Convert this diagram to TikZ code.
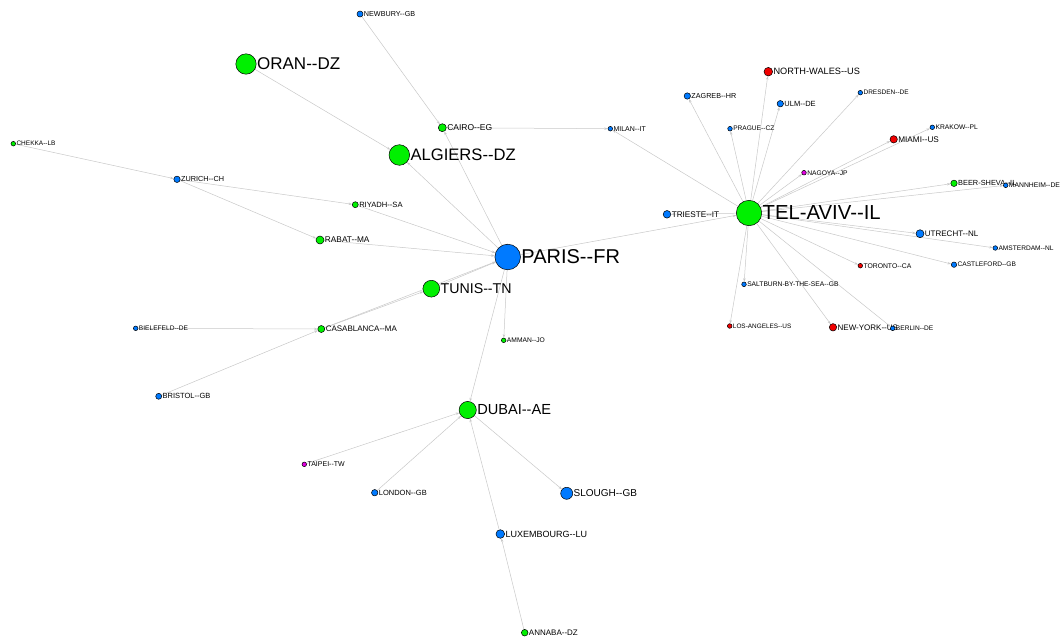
\documentclass[tikz,border=0pt]{standalone}
\usepackage{fontspec}
\usepackage{tikz}
\usetikzlibrary{arrows.meta,backgrounds}
\newfontfamily\cityfont{Liberation Sans}
\definecolor{cityGreen}{RGB}{0,240,0}
\definecolor{cityBlue}{RGB}{0,122,255}
\definecolor{cityRed}{RGB}{240,0,0}
\definecolor{cityPink}{RGB}{225,0,225}
\definecolor{linkGray}{RGB}{200,200,200}
\tikzset{
city/.style={circle,draw=black,line width=0.5pt,inner sep=0pt},
link/.style={draw=linkGray,line width=0.5pt,-{Stealth[length=3.5pt,width=2.5pt]}}
}
% name, position, colour, diameter, font size, text
\newcommand\drawCity[6]{
\node[city,fill=#3,minimum size=#4pt,label distance=1pt,
  label={[inner sep=0.5pt,font=\cityfont\fontsize{#5}{#5}\selectfont]right:#6}] (#1) at (#2) {};
}

\begin{document}
\begin{tikzpicture}[x=1pt,y=-1pt]
\useasboundingbox (0,0) rectangle (1062,643);
% the two hubs
\drawCity{paris}{507.7,257}{cityBlue}{25.6}{20}{PARIS--FR}
\drawCity{telaviv}{749,213}{cityGreen}{25.4}{20.3}{TEL-AVIV--IL}
% around Paris
\drawCity{oran}{246,64}{cityGreen}{20.4}{17}{ORAN--DZ}
\drawCity{algiers}{399.3,155}{cityGreen}{20.6}{16.6}{ALGIERS--DZ}
\drawCity{tunis}{431.3,288.7}{cityGreen}{16.8}{14.2}{TUNIS--TN}
\drawCity{dubai}{467.7,410}{cityGreen}{17.2}{14.6}{DUBAI--AE}
\drawCity{slough}{566.7,493.3}{cityBlue}{12}{10}{SLOUGH--GB}
\drawCity{luxembourg}{500.3,534}{cityBlue}{8.6}{9}{LUXEMBOURG--LU}
\drawCity{annaba}{524.7,632.7}{cityGreen}{6.6}{8}{ANNABA--DZ}
\drawCity{london}{374.7,492.7}{cityBlue}{6.4}{7.5}{LONDON--GB}
\drawCity{taipei}{304.3,464.3}{cityPink}{4.6}{7}{TAIPEI--TW}
\drawCity{amman}{503.7,340.3}{cityGreen}{4.6}{6.7}{AMMAN--JO}
\drawCity{cairo}{442.3,127.7}{cityGreen}{8}{8.5}{CAIRO--EG}
\drawCity{newbury}{360,14}{cityBlue}{6}{7.2}{NEWBURY--GB}
\drawCity{milan}{610.3,128.7}{cityBlue}{4.6}{7}{MILAN--IT}
\drawCity{rabat}{320,240}{cityGreen}{8}{8.3}{RABAT--MA}
\drawCity{riyadh}{355.3,204.7}{cityGreen}{6}{7.6}{RIYADH--SA}
\drawCity{zurich}{177,179.3}{cityBlue}{6.4}{7.3}{ZURICH--CH}
\drawCity{chekka}{13.3,143.7}{cityGreen}{4.6}{6.5}{CHEKKA--LB}
\drawCity{casablanca}{321.3,329}{cityGreen}{7}{8}{CASABLANCA--MA}
\drawCity{bielefeld}{135.7,328.3}{cityBlue}{4.6}{6.6}{BIELEFELD--DE}
\drawCity{bristol}{158.7,396.3}{cityBlue}{6}{7.5}{BRISTOL--GB}
% around Tel-Aviv
\drawCity{trieste}{667,214.3}{cityBlue}{7.6}{8.2}{TRIESTE--IT}
\drawCity{northwales}{768.3,71.7}{cityRed}{8.6}{9.2}{NORTH-WALES--US}
\drawCity{zagreb}{687.3,96}{cityBlue}{6.4}{7.2}{ZAGREB--HR}
\drawCity{ulm}{780.3,103.7}{cityBlue}{6.4}{7.5}{ULM--DE}
\drawCity{prague}{730,128.7}{cityBlue}{4.6}{6.6}{PRAGUE--CZ}
\drawCity{dresden}{860.3,92.7}{cityBlue}{4.6}{6.5}{DRESDEN--DE}
\drawCity{krakow}{932.3,127.3}{cityBlue}{4.6}{6.7}{KRAKOW--PL}
\drawCity{miami}{893.7,139.3}{cityRed}{7.4}{8.2}{MIAMI--US}
\drawCity{nagoya}{804,172.7}{cityPink}{4.6}{6.7}{NAGOYA--JP}
\drawCity{beersheva}{954,183.3}{cityGreen}{6.4}{7.4}{BEER-SHEVA--IL}
\drawCity{mannheim}{1005.7,185.3}{cityBlue}{4.6}{6.8}{MANNHEIM--DE}
\drawCity{utrecht}{920,233.7}{cityBlue}{8}{8}{UTRECHT--NL}
\drawCity{amsterdam}{995.3,248}{cityBlue}{4.6}{6.6}{AMSTERDAM--NL}
\drawCity{castleford}{954,264.7}{cityBlue}{5.4}{6.6}{CASTLEFORD--GB}
\drawCity{toronto}{860.3,265.7}{cityRed}{4.6}{6.8}{TORONTO--CA}
\drawCity{saltburn}{744,284.3}{cityBlue}{4.6}{6.7}{SALTBURN-BY-THE-SEA--GB}
\drawCity{losangeles}{729.7,326}{cityRed}{4.6}{6.4}{LOS-ANGELES--US}
\drawCity{newyork}{833,327.3}{cityRed}{7.4}{8}{NEW-YORK--US}
\drawCity{berlin}{892.7,328.3}{cityBlue}{4.6}{6.6}{BERLIN--DE}
% links
\begin{scope}[on background layer]
\foreach \a/\b in {newbury/cairo,oran/algiers,paris/algiers,paris/cairo,cairo/milan,
  telaviv/milan,chekka/zurich,zurich/riyadh,zurich/rabat,riyadh/paris,rabat/paris,
  casablanca/tunis,tunis/paris,casablanca/paris,bielefeld/casablanca,bristol/casablanca,
  paris/amman,paris/dubai,taipei/dubai,london/dubai,dubai/slough,luxembourg/dubai,
  annaba/luxembourg,paris/telaviv}
  \draw[link] (\a) -- (\b);
\foreach \b in {trieste,zagreb,prague,northwales,ulm,dresden,nagoya,miami,krakow,
  beersheva,mannheim,utrecht,amsterdam,castleford,toronto,saltburn,losangeles,newyork,berlin}
  \draw[link] (telaviv) -- (\b);
\end{scope}
\end{tikzpicture}
\end{document}
